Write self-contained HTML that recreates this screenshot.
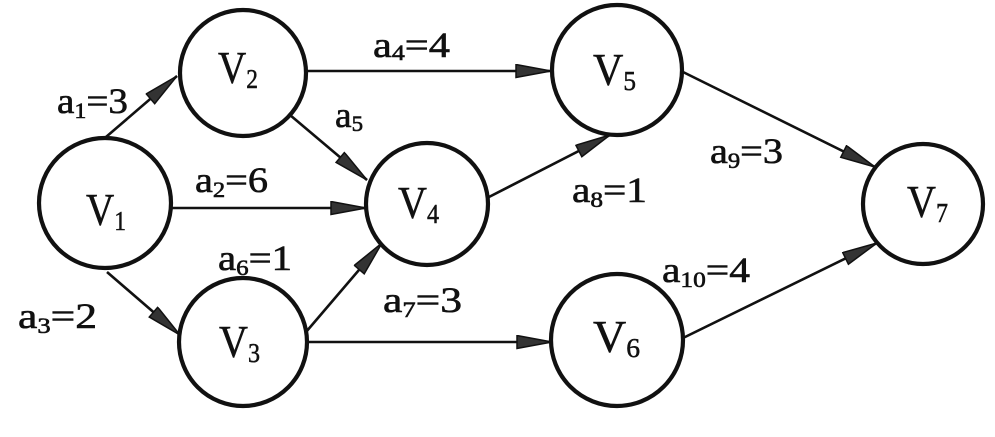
<!DOCTYPE html>
<html>
<head>
<meta charset="utf-8">
<style>
  html,body{margin:0;padding:0;background:#fff;}
  svg{display:block;}
  text{font-family:"Liberation Serif","Times New Roman",Times,serif;fill:#111;}
</style>
</head>
<body>
<svg width="995" height="437" viewBox="0 0 995 437" xmlns="http://www.w3.org/2000/svg">
  <defs>
    <marker id="ah" markerUnits="userSpaceOnUse" markerWidth="40" markerHeight="18" refX="36" refY="7" orient="auto">
      <path d="M1,0.5 L36,7 L1,13.5 Z" fill="#333" stroke="#111" stroke-width="1.5" stroke-linejoin="miter"/>
    </marker>
  </defs>
  <rect width="995" height="437" fill="#fff"/>

  <!-- edges -->
  <g stroke="#111" stroke-width="2.6" fill="none" marker-end="url(#ah)">
    <line x1="106" y1="137" x2="177" y2="76"/>
    <line x1="290" y1="115" x2="367" y2="180"/>
    <line x1="172" y1="208" x2="366" y2="208"/>
    <line x1="107" y1="272" x2="180" y2="335"/>
    <line x1="306" y1="332" x2="382" y2="243"/>
    <line x1="306" y1="71" x2="551" y2="71"/>
    <line x1="306" y1="342" x2="552" y2="342"/>
    <line x1="487" y1="198" x2="610" y2="135"/>
    <line x1="683" y1="72" x2="875" y2="167"/>
    <line x1="683" y1="338" x2="877" y2="243"/>
  </g>

  <!-- nodes -->
  <g stroke="#111" stroke-width="4.2" fill="#fff">
    <ellipse cx="105" cy="203" rx="66" ry="65"/>
    <circle cx="243" cy="73" r="63"/>
    <circle cx="243" cy="342" r="64"/>
    <circle cx="427" cy="204" r="61"/>
    <circle cx="617" cy="70" r="65"/>
    <circle cx="617" cy="340" r="66"/>
    <circle cx="923" cy="204" r="60"/>
  </g>

  <!-- node labels -->
  <g font-size="45" font-family="Liberation Serif, Times New Roman, Times, serif" stroke="#111" stroke-width="0.5">
    <text x="86" y="225" textLength="40" lengthAdjust="spacingAndGlyphs">V<tspan font-size="27" dy="5">1</tspan></text>
    <text x="218" y="83" textLength="40" lengthAdjust="spacingAndGlyphs">V<tspan font-size="27" dy="5">2</tspan></text>
    <text x="219" y="357" textLength="41" lengthAdjust="spacingAndGlyphs">V<tspan font-size="27" dy="5">3</tspan></text>
    <text x="398" y="218" textLength="41" lengthAdjust="spacingAndGlyphs">V<tspan font-size="27" dy="5">4</tspan></text>
    <text x="593" y="85" textLength="43" lengthAdjust="spacingAndGlyphs">V<tspan font-size="27" dy="5">5</tspan></text>
    <text x="593" y="352" textLength="47" lengthAdjust="spacingAndGlyphs">V<tspan font-size="27" dy="5">6</tspan></text>
    <text x="907" y="217" textLength="41" lengthAdjust="spacingAndGlyphs">V<tspan font-size="27" dy="5">7</tspan></text>
  </g>

  <!-- edge labels -->
  <g font-size="36" font-family="Liberation Serif, Times New Roman, Times, serif" stroke="#111" stroke-width="0.6">
    <text x="57" y="113" textLength="71" lengthAdjust="spacingAndGlyphs">a<tspan font-size="22" dy="5">1</tspan><tspan dy="-5">=3</tspan></text>
    <text x="335" y="127" textLength="28" lengthAdjust="spacingAndGlyphs">a<tspan font-size="22" dy="4">5</tspan></text>
    <text x="195" y="192" textLength="73" lengthAdjust="spacingAndGlyphs">a<tspan font-size="22" dy="5">2</tspan><tspan dy="-5">=6</tspan></text>
    <text x="218" y="270" textLength="74" lengthAdjust="spacingAndGlyphs">a<tspan font-size="22" dy="5">6</tspan><tspan dy="-5">=1</tspan></text>
    <text x="18" y="328" textLength="79" lengthAdjust="spacingAndGlyphs">a<tspan font-size="22" dy="5">3</tspan><tspan dy="-5">=2</tspan></text>
    <text x="373" y="57" textLength="77" lengthAdjust="spacingAndGlyphs">a<tspan font-size="22" dy="3">4</tspan><tspan dy="-3">=4</tspan></text>
    <text x="383" y="312" textLength="79" lengthAdjust="spacingAndGlyphs">a<tspan font-size="22" dy="5">7</tspan><tspan dy="-5">=3</tspan></text>
    <text x="710" y="163" textLength="73" lengthAdjust="spacingAndGlyphs">a<tspan font-size="22" dy="5">9</tspan><tspan dy="-5">=3</tspan></text>
    <text x="572" y="202" textLength="75" lengthAdjust="spacingAndGlyphs">a<tspan font-size="22" dy="5">8</tspan><tspan dy="-5">=1</tspan></text>
    <text x="662" y="282" textLength="88" lengthAdjust="spacingAndGlyphs">a<tspan font-size="22" dy="5">10</tspan><tspan dy="-5">=4</tspan></text>
  </g>
</svg>
</body>
</html>
